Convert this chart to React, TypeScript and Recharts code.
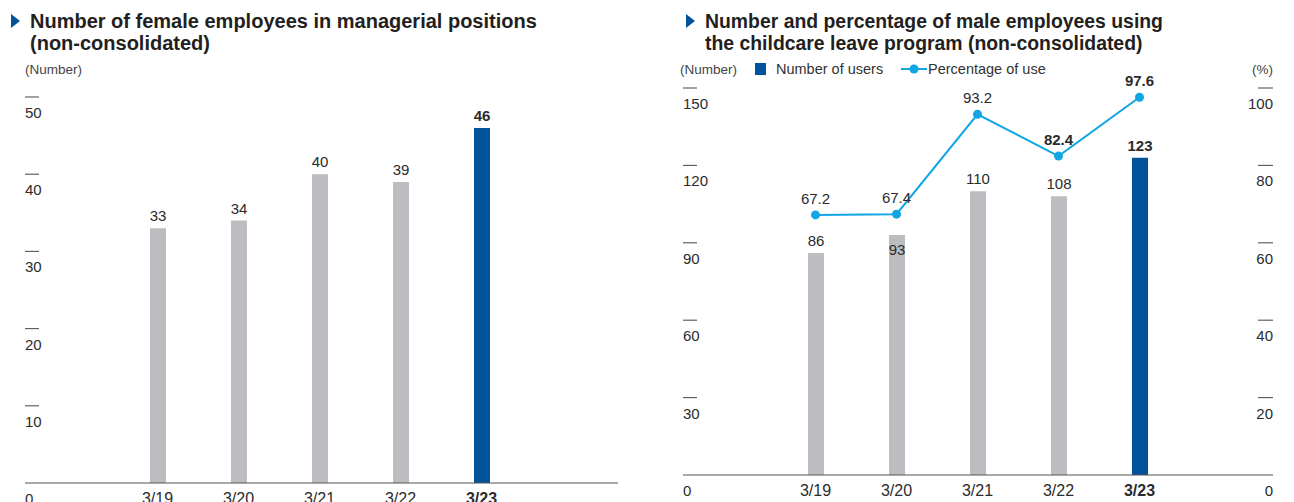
import React from 'react';
import { BarChart, ComposedChart, Bar, Line, XAxis, YAxis, Cell, LabelList } from 'recharts';

const years = ['3/19', '3/20', '3/21', '3/22', '3/23'];
const femaleManagers = [33, 34, 40, 39, 46];
const maleUsers = [86, 93, 110, 108, 123];
const maleRate = [67.2, 67.4, 93.2, 82.4, 97.6];
const femaleTicks = [0, 10, 20, 30, 40, 50];
const countTicks = [0, 30, 60, 90, 120, 150];
const pctTicks = [0, 20, 40, 60, 80, 100];

const BLUE = '#00529b';
const GRAY = '#bcbdc0';
const SKY = '#12a5e4';
const TEXT = '#2b2b2b';
const FONT = '"Liberation Sans", Arial, Helvetica, sans-serif';

const femaleData = years.map((year, i) => ({ year, value: femaleManagers[i] }));
const maleData = years.map((year, i) => ({ year, users: maleUsers[i], rate: maleRate[i] }));
const last = years.length - 1;

// dash above, number below, like the printed report
function makeYTick(left: number, anchor: 'start' | 'end') {
  return (props: any) => {
    const { y, payload } = props;
    const x1 = anchor === 'start' ? left : left - 15;
    const x2 = anchor === 'start' ? left + 14 : left;
    return (
      <g>
        {payload.value !== 0 && <line x1={x1} x2={x2} y1={y} y2={y} stroke="#555" strokeWidth={1.1} />}
        <text x={left} y={y + 21} textAnchor={anchor} fontSize={15} fill={TEXT} fontFamily={FONT}>
          {payload.value}
        </text>
      </g>
    );
  };
}

function XTick(props: any) {
  const { x, y, payload, index } = props;
  return (
    <text x={x} y={y + 13} textAnchor="middle" fontSize={16} fill={TEXT} fontFamily={FONT}
      fontWeight={index === last ? 'bold' : 'normal'}>
      {payload.value}
    </text>
  );
}

function FemaleLabel(props: any) {
  const { x, y, width, value, index } = props;
  return (
    <text x={x + width / 2} y={y - 7} textAnchor="middle" fontSize={15} fill={TEXT} fontFamily={FONT}
      fontWeight={index === last ? 'bold' : 'normal'}>
      {value}
    </text>
  );
}

function UsersLabel(props: any) {
  const { x, y, width, value, index } = props;
  // 3/20 label sits inside the bar so it does not clash with the line
  const ty = index === 1 ? y + 20 : y - 7;
  return (
    <text x={x + width / 2} y={ty} textAnchor="middle" fontSize={15} fill={TEXT} fontFamily={FONT}
      fontWeight={index === last ? 'bold' : 'normal'}>
      {value}
    </text>
  );
}

function RateLabel(props: any) {
  const { x, y, value, index } = props;
  return (
    <text x={x} y={y - 11} textAnchor="middle" fontSize={15} fill={TEXT} fontFamily={FONT}
      fontWeight={index >= 3 ? 'bold' : 'normal'}>
      {value.toFixed(1)}
    </text>
  );
}

function Title({ left, size, lines }: { left: number, size: number, lines: string[] }) {
  return (
    <>
      <svg style={{ position: 'absolute', left: left - 19, top: 14 }} width={10} height={15}>
        <polygon points="0,0 9,7 0,14" fill={BLUE} />
      </svg>
      <div style={{ position: 'absolute', left, top: 10, fontSize: size, lineHeight: '22px', fontWeight: 'bold', color: '#231f20' }}>
        {lines.map((l) => <div key={l}>{l}</div>)}
      </div>
    </>
  );
}

export default function App() {
  return (
    <div style={{ position: 'absolute', left: 0, top: 0, width: 1294, height: 502, overflow: 'hidden', background: '#fff', fontFamily: FONT }}>
      <Title left={30} size={20} lines={['Number of female employees in managerial positions', '(non-consolidated)']} />
      <Title left={705} size={19.4} lines={['Number and percentage of male employees using', 'the childcare leave program (non-consolidated)']} />

      <div style={{ position: 'absolute', left: 25, top: 62, fontSize: 13.5, color: '#444' }}>(Number)</div>

      <div style={{ position: 'absolute', left: 680, top: 62, fontSize: 13.5, color: '#444' }}>(Number)</div>
      <div style={{ position: 'absolute', left: 755, top: 63, width: 11, height: 12, background: BLUE }} />
      <div style={{ position: 'absolute', left: 776, top: 61, fontSize: 14.5, color: '#333' }}>Number of users</div>
      <svg style={{ position: 'absolute', left: 900, top: 62 }} width={28} height={14}>
        <line x1={1} x2={27} y1={7} y2={7} stroke={SKY} strokeWidth={2} />
        <circle cx={14} cy={7} r={4.5} fill={SKY} />
      </svg>
      <div style={{ position: 'absolute', left: 928, top: 61, fontSize: 14.5, color: '#333' }}>Percentage of use</div>
      <div style={{ position: 'absolute', right: 21, top: 62, fontSize: 13.5, color: '#444' }}>(%)</div>

      <div style={{ position: 'absolute', left: 0, top: 0 }}>
        <BarChart width={640} height={502} data={femaleData} margin={{ top: 97, right: 22, bottom: 0, left: 24 }}>
          <XAxis dataKey="year" height={19} tickLine={false} axisLine={{ stroke: '#555', strokeWidth: 1.2 }}
            padding={{ left: 92, right: 96 }} tick={<XTick />} interval={0} />
          <YAxis width={1} domain={[0, 50]} ticks={femaleTicks} axisLine={false} tickLine={false}
            tick={makeYTick(25, 'start')} />
          <Bar dataKey="value" barSize={16} isAnimationActive={false}>
            {femaleData.map((d, i) => <Cell key={d.year} fill={i === last ? BLUE : GRAY} />)}
            <LabelList dataKey="value" content={<FemaleLabel />} />
          </Bar>
        </BarChart>
      </div>

      <div style={{ position: 'absolute', left: 640, top: 0 }}>
        <ComposedChart width={654} height={502} data={maleData} margin={{ top: 88, right: 20, bottom: 0, left: 42 }}>
          <XAxis dataKey="year" height={27} tickLine={false} axisLine={{ stroke: '#555', strokeWidth: 1.2 }}
            padding={{ left: 92, right: 93 }} tick={<XTick />} interval={0} />
          <YAxis yAxisId="count" width={1} domain={[0, 150]} ticks={countTicks} axisLine={false} tickLine={false}
            tick={makeYTick(43, 'start')} />
          <YAxis yAxisId="pct" orientation="right" width={1} domain={[0, 100]} ticks={pctTicks} axisLine={false}
            tickLine={false} tick={makeYTick(633, 'end')} />
          <Bar yAxisId="count" dataKey="users" barSize={16} isAnimationActive={false}>
            {maleData.map((d, i) => <Cell key={d.year} fill={i === last ? BLUE : GRAY} />)}
            <LabelList dataKey="users" content={<UsersLabel />} />
          </Bar>
          <Line yAxisId="pct" dataKey="rate" type="linear" stroke={SKY} strokeWidth={2}
            dot={{ r: 4.5, fill: SKY, stroke: SKY, strokeWidth: 0 }} activeDot={false} isAnimationActive={false}>
            <LabelList dataKey="rate" content={<RateLabel />} />
          </Line>
        </ComposedChart>
      </div>
    </div>
  );
}
